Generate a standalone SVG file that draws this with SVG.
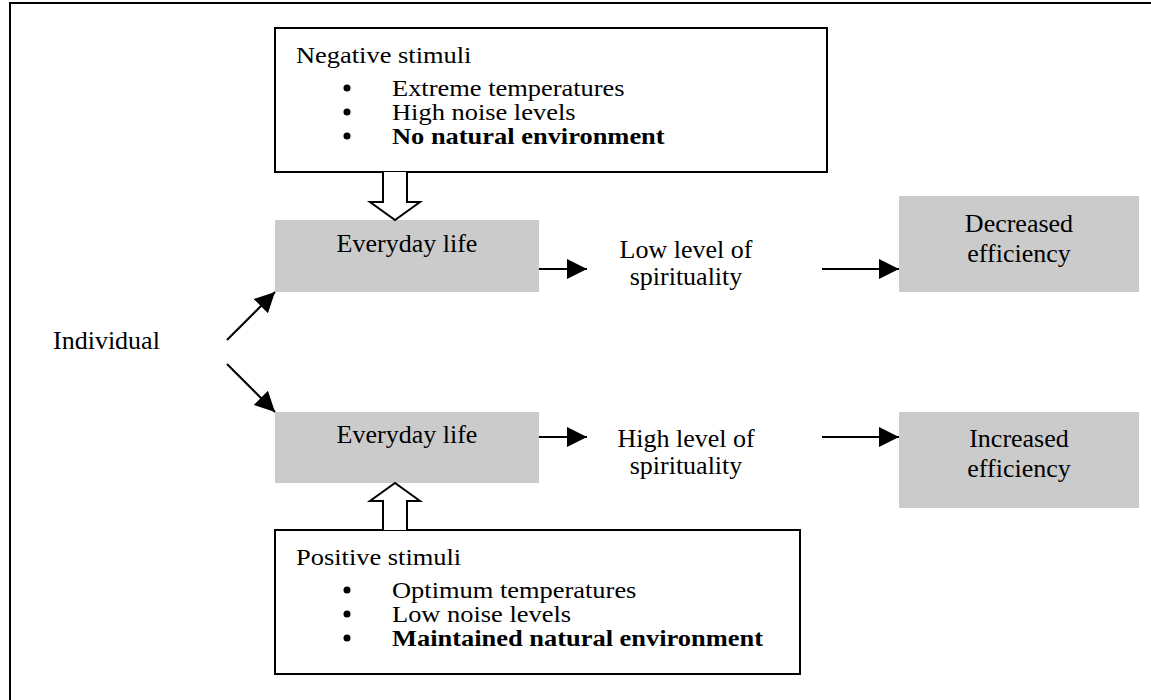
<svg xmlns="http://www.w3.org/2000/svg" width="1151" height="700" viewBox="0 0 1151 700">
<defs>
<style>
text{font-family:"Liberation Serif","Times New Roman",serif;font-size:26px;fill:#000}
.s{font-size:23px}
.b{font-weight:bold}
.c{text-anchor:middle}
.box{fill:#fff;stroke:#000;stroke-width:2}
.gray{fill:#cbcbcb}
.ln{stroke:#000;stroke-width:2;fill:none}
.hollow{fill:#fff;stroke:#000;stroke-width:2;stroke-linejoin:miter}
</style>
<marker id="ah" markerWidth="20" markerHeight="20" refX="20" refY="10" orient="auto" markerUnits="userSpaceOnUse" viewBox="0 0 20 20">
<path d="M0,0 L20,10 L0,20 Z" fill="#000"/>
</marker>
</defs>
<rect width="1151" height="700" fill="#fff"/>
<rect x="10" y="3" width="1200" height="800" fill="none" stroke="#000" stroke-width="2"/>

<g id="negative">
<rect class="box" x="275" y="28" width="552" height="144"/>
<text class="s" transform="translate(296,63) scale(1.15,1)">Negative stimuli</text>
<circle cx="347" cy="88" r="3.5"/>
<text class="s" transform="translate(392,96) scale(1.15,1)">Extreme temperatures</text>
<circle cx="347" cy="112" r="3.5"/>
<text class="s" transform="translate(392,120) scale(1.15,1)">High noise levels</text>
<circle cx="347" cy="136" r="3.5"/>
<text class="s b" transform="translate(392,144) scale(1.15,1)">No natural environment</text>
</g>

<g id="everyday1">
<rect class="gray" x="275" y="220" width="264" height="72"/>
<text class="c" x="407" y="252">Everyday life</text>
</g>

<g id="low">
<text class="c" x="686" y="258">Low level of</text>
<text class="c" x="686" y="285">spirituality</text>
</g>

<g id="decreased">
<rect class="gray" x="899" y="196" width="240" height="96"/>
<text class="c" x="1019" y="232">Decreased</text>
<text class="c" x="1019" y="262">efficiency</text>
</g>

<g id="individual">
<text x="53" y="349">Individual</text>
</g>

<g id="everyday2">
<rect class="gray" x="275" y="412" width="264" height="71"/>
<text class="c" x="407" y="443">Everyday life</text>
</g>

<g id="high">
<text class="c" x="686" y="447">High level of</text>
<text class="c" x="686" y="474">spirituality</text>
</g>

<g id="increased">
<rect class="gray" x="899" y="412" width="240" height="96"/>
<text class="c" x="1019" y="447">Increased</text>
<text class="c" x="1019" y="477">efficiency</text>
</g>

<g id="positive">
<rect class="box" x="275" y="530" width="525" height="144"/>
<text class="s" transform="translate(296,565) scale(1.15,1)">Positive stimuli</text>
<circle cx="347" cy="590" r="3.5"/>
<text class="s" transform="translate(392,598) scale(1.15,1)">Optimum temperatures</text>
<circle cx="347" cy="614" r="3.5"/>
<text class="s" transform="translate(392,622) scale(1.15,1)">Low noise levels</text>
<circle cx="347" cy="638" r="3.5"/>
<text class="s b" transform="translate(392,646) scale(1.15,1)">Maintained natural environment</text>
</g>

<g id="connectors">
<path class="hollow" d="M383,172 L383,202 L370,202 L395,220 L420,202 L407,202 L407,172"/>
<path class="hollow" d="M383,530 L383,501 L370,501 L395,483 L420,501 L407,501 L407,530"/>
<path class="ln" d="M227,340 L275,292" marker-end="url(#ah)"/>
<path class="ln" d="M227,364 L275,412" marker-end="url(#ah)"/>
<line class="ln" x1="539" y1="269" x2="587" y2="269" marker-end="url(#ah)"/>
<line class="ln" x1="822" y1="269" x2="899" y2="269" marker-end="url(#ah)"/>
<line class="ln" x1="539" y1="437" x2="587" y2="437" marker-end="url(#ah)"/>
<line class="ln" x1="822" y1="437" x2="899" y2="437" marker-end="url(#ah)"/>
</g>
</svg>
